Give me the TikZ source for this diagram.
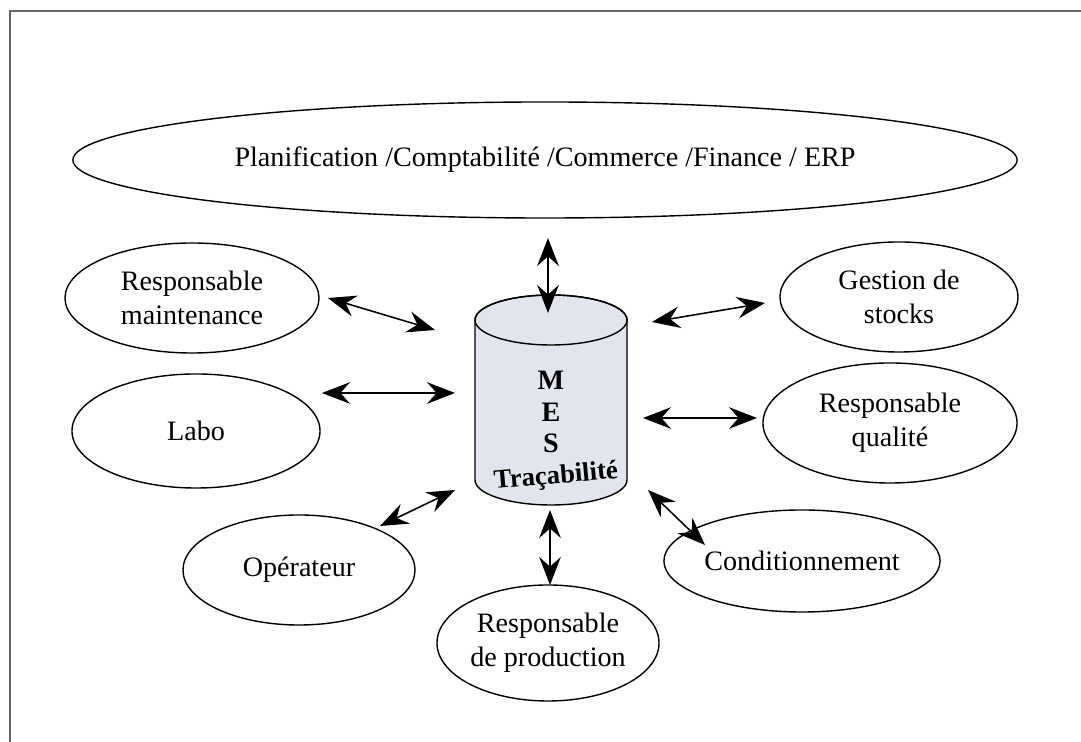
\documentclass[tikz,border=0pt]{standalone}
\usepackage{fontspec}
\setmainfont{Liberation Serif}
\usepackage{tikz}
\usetikzlibrary{arrows.meta, positioning, shapes, calc}
\definecolor{dbgray}{RGB}{226,229,237}
\tikzset{
  actor/.style={draw, ellipse, line width=1pt, inner sep=0pt, align=center},
  erpbox/.style={actor, minimum width=23.6cm, minimum height=2.9cm},
  dbbody/.style={draw, line width=1pt, fill=dbgray},
  frame/.style={line width=1.3pt, black!60},
  link/.style={{Stealth[length=7mm, width=5.4mm, inset=2.4mm]}-{Stealth[length=7mm, width=5.4mm, inset=2.4mm]}, line width=1.1pt},
}

\begin{document}
\begin{tikzpicture}[x=0.025cm, y=0.025cm, font=\fontsize{20}{24}\selectfont]
  \useasboundingbox (0,0) rectangle (1081,742);
  \draw[frame] (10,0) -- (10,731) -- (1081,731);

  \node[erpbox] (erp) at (545,582) {Planification /Comptabilité /Commerce /Finance / ERP};

  % left side
  \node[actor, minimum width=6.35cm, minimum height=2.75cm] (maint) at (192,444) {Responsable\\maintenance};
  \node[actor, minimum width=6.2cm, minimum height=2.85cm] (labo) at (196,311) {Labo};
  \node[actor, minimum width=5.8cm, minimum height=2.75cm] (oper) at (299,172) {Opérateur};
  \node[actor, minimum width=5.55cm, minimum height=2.9cm] (prod) at (548,99) {Responsable\\de production};

  % right side
  \node[actor, minimum width=5.95cm, minimum height=2.75cm] (stocks) at (899,445) {Gestion de\\stocks};
  \node[actor, minimum width=6.35cm, minimum height=3cm] (qual) at (890,319) {Responsable\\qualité};
  \node[actor, minimum width=5.85cm, minimum height=2.55cm] (cond) at (802,181) {Conditionnement};

  % MES database
  \draw[dbbody] (475,422) -- (475,262) arc (180:360:76 and 25) -- (627,422) arc (0:180:76 and 25) -- cycle;
  \draw[line width=1pt] (551,422) ellipse (76 and 25);
  \node[font=\fontsize{20}{22.5}\selectfont\bfseries, align=center] (db) at (551,330) {M\\E\\S};
  \node[font=\fontsize{19}{22}\selectfont\bfseries, rotate=5] (trac) at (556,265) {Traçabilité};

  % free ends of the links
  \coordinate (erp-s) at (548,504);   \coordinate (db-n) at (548,429);
  \coordinate (maint-e) at (328,444); \coordinate (db-nw) at (435,412);
  \coordinate (labo-e) at (322,349);  \coordinate (db-w) at (455,349);
  \coordinate (oper-ne) at (380,216); \coordinate (db-sw) at (455,252);
  \coordinate (db-s) at (550,232);    \coordinate (prod-n) at (550,157);
  \coordinate (db-ne) at (652,420);   \coordinate (stocks-w) at (765,439);
  \coordinate (db-e) at (643,324);    \coordinate (qual-w) at (757,324);
  \coordinate (db-se) at (648,252);   \coordinate (cond-nw) at (705,197);

  \draw[link] (erp-s) -- (db-n);
  \draw[link] (maint-e) -- (db-nw);
  \draw[link] (labo-e) -- (db-w);
  \draw[link] (oper-ne) -- (db-sw);
  \draw[link] (db-s) -- (prod-n);
  \draw[link] (db-ne) -- (stocks-w);
  \draw[link] (db-e) -- (qual-w);
  \draw[link] (db-se) -- (cond-nw);
\end{tikzpicture}
\end{document}
